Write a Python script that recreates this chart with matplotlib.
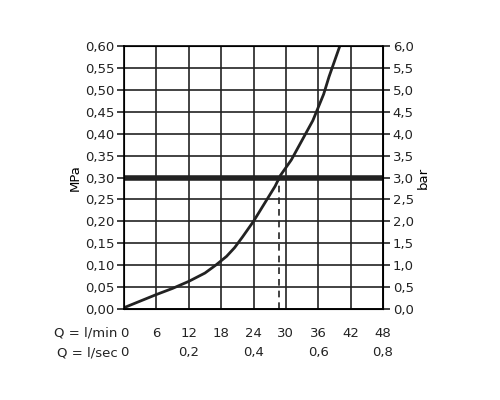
import matplotlib.pyplot as plt
import numpy as np

# curve (l/min, MPa)
q_lmin = [0, 3, 6, 9, 12, 15, 17, 19, 20.5, 22, 24, 26, 28, 29, 31, 33, 35, 36, 37, 38, 39, 40]
p_mpa = [0.003, 0.018, 0.033, 0.047, 0.063, 0.082, 0.10, 0.12, 0.14, 0.165, 0.20, 0.24, 0.28, 0.305, 0.34, 0.385, 0.43, 0.46, 0.49, 0.53, 0.565, 0.60]
x_ticks = [0, 6, 12, 18, 24, 30, 36, 42, 48]
sec_ticks = ["0", "0,2", "0,4", "0,6", "0,8"]
y_ticks = np.arange(0, 0.61, 0.05)
limit_mpa = 0.30
limit_q = 28.7

plt.rcParams['font.family'] = 'DejaVu Sans'
fig = plt.figure(figsize=(5, 4), dpi=100)
ax = fig.add_axes([0.248, 0.2275, 0.518, 0.6575])
ax.set_xlim(0, 48)
ax.set_ylim(0, 0.6)
ax.set_xticks(x_ticks)
ax.set_yticks(y_ticks)
ax.set_xticklabels([])
ax.set_yticklabels([f"{v:.2f}".replace(".", ",") for v in y_ticks], fontsize=9.5)
ax.grid(True, color="#222222", lw=1.2)
for s in ax.spines.values():
    s.set_linewidth(1.2)
ax.tick_params(axis="x", length=0)
ax.tick_params(axis="y", length=5, width=1.2, pad=2, colors="#222222")

ax.plot(q_lmin, p_mpa, color="#222222", lw=2)
ax.axhline(limit_mpa, color="#222222", lw=4)
ax.plot([limit_q, limit_q], [0, limit_mpa], color="#222222", lw=1.2, ls=(0, (4, 3)))
ax.set_ylabel("MPa", fontsize=9.5, labelpad=2)

ax2 = ax.twinx()
ax2.set_ylim(0, 6)
ax2.set_yticks(np.arange(0, 6.01, 0.5))
ax2.set_yticklabels([f"{v:.1f}".replace(".", ",") for v in np.arange(0, 6.01, 0.5)], fontsize=9.5)
ax2.tick_params(axis="y", length=5, width=1.2, pad=2, colors="#222222")
ax2.set_ylabel("bar", fontsize=9.5, labelpad=2)

for v in x_ticks:
    ax.text(v, -0.055, str(v), ha="center", va="center", fontsize=9.5, color="#222222")
for i, t in enumerate(sec_ticks):
    ax.text(i * 12, -0.1, t, ha="center", va="center", fontsize=9.5, color="#222222")
ax.text(-1.2, -0.055, "Q = l/min", ha="right", va="center", fontsize=9.5, color="#222222")
ax.text(-1.2, -0.1, "Q = l/sec", ha="right", va="center", fontsize=9.5, color="#222222")

fig.savefig("out.png")
